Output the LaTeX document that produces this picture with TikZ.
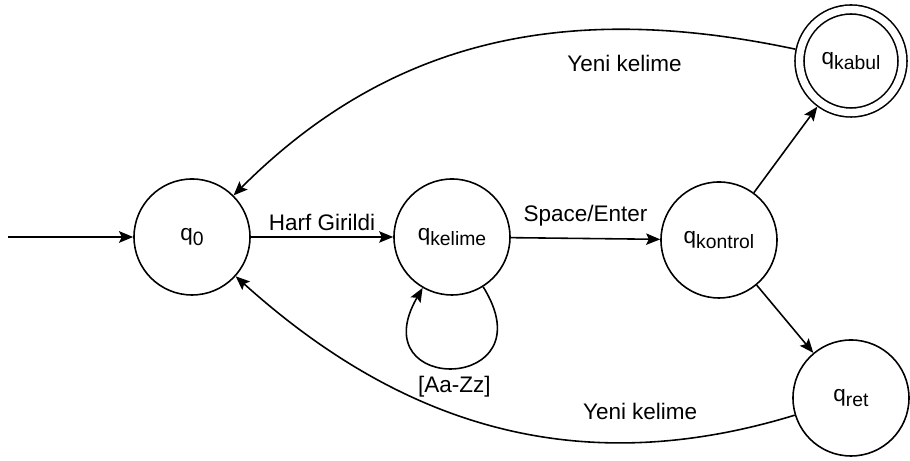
\documentclass[tikz,border=0pt]{standalone}
\usepackage{fontspec}
\setmainfont{Liberation Sans}
\usepackage{tikz}
\usetikzlibrary{arrows.meta}

% state name with a lowered subscript
\newcommand{\qsub}[1]{q\raisebox{-3.2pt}{\fontsize{11}{13}\selectfont #1}}

\begin{document}
\begin{tikzpicture}[
    >={Stealth[length=8pt,width=6.5pt,inset=1.5pt]},
    every node/.style={font=\fontsize{12.8}{15}\selectfont},
    state/.style={circle,draw,line width=0.9pt,minimum size=2.32cm,inner sep=0pt},
    finalstate/.style={circle,draw,line width=0.9pt,double,double distance=0.148cm,
        minimum size=2.06cm,inner sep=0pt,outer sep=0.106cm},
    trans/.style={->,line width=0.9pt}
    ]
\useasboundingbox (0,0) rectangle (18.2,9.22);

\node[state] (q0) at (3.84,4.48) {\qsub{0}};
\node[state] (qk) at (9.04,4.48) {\qsub{kelime}};
\node[state] (qc) at (14.38,4.42) {\qsub{kontrol}};
\node[finalstate] (qa) at (17.02,8.0) {\qsub{kabul}};
\node[state] (qr) at (17.02,1.26) {\qsub{ret}};

% start arrow
\coordinate (start) at (0.16,4.48);
\draw[->,line width=1.3pt] (start) -- (q0);

\draw[trans] (q0) -- node[above] {Harf Girildi} (qk);
\draw[trans] (qk) -- node[above=3.4pt] {Space/Enter} (qc);

% letters keep us in q_kelime
\draw[trans] (qk.-58) .. controls +(-58:2.5) and +(-120:2.5) .. (qk.-120)
    node[pos=0.5,below=1pt] {[Aa-Zz]};

\draw[trans] (qc) -- (qa);
\draw[trans] (qc) -- (qr);

%back to q0
\draw[trans] (qa) to[out=168,in=45] node[pos=0.27,below=11pt] {Yeni kelime} (q0);
\draw[trans] (qr) to[out=197,in=-42] node[pos=0.25,above=9pt] {Yeni kelime} (q0);

\end{tikzpicture}
\end{document}
